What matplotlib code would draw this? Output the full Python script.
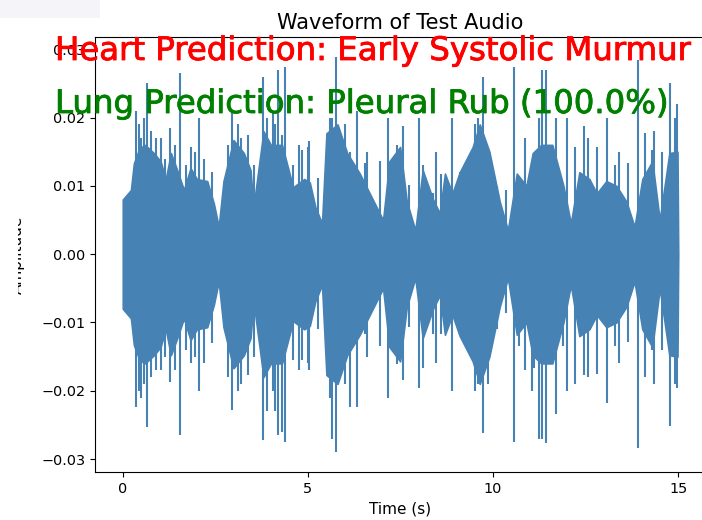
import matplotlib
matplotlib.use("Agg")
import matplotlib.pyplot as plt
import matplotlib.patheffects as pe
from matplotlib.patches import Rectangle

# envelope of the dense part of the waveform
env_t = [0.0, 0.22, 0.3, 0.45, 0.6, 0.84, 1.02, 1.16, 1.3, 1.47, 1.65, 1.83, 2.0, 2.28,
         2.46, 2.59, 2.72, 2.99, 3.27, 3.45, 3.53, 3.8, 4.0, 4.3, 4.6, 4.9, 5.05, 5.2,
         5.38, 5.5, 5.8, 6.06, 6.4, 6.76, 7.03, 7.2, 7.49, 7.67, 7.9, 8.1, 8.38, 8.56,
         8.7, 8.9, 9.1, 9.45, 9.64, 9.9, 10.18, 10.4, 10.64, 10.9, 11.07, 11.3, 11.6,
         11.9, 12.1, 12.33, 12.6, 12.8, 13.06, 13.33, 13.6, 13.82, 14.03, 14.3, 14.5,
         14.76, 14.98, 15.0]
env_amp = [0.008, 0.0094, 0.0133, 0.0155, 0.016, 0.0148, 0.0136, 0.011, 0.0148, 0.0123,
           0.0094, 0.0126, 0.011, 0.0107, 0.0074, 0.004, 0.0107, 0.0167, 0.0148, 0.0123,
           0.0069, 0.018, 0.016, 0.016, 0.0098, 0.011, 0.0105, 0.0069, 0.0045, 0.0177,
           0.019, 0.0148, 0.0118, 0.0079, 0.005, 0.0136, 0.0157, 0.0077, 0.0035, 0.0123,
           0.008, 0.006, 0.0118, 0.0089, 0.012, 0.0157, 0.019, 0.015, 0.0077, 0.0035,
           0.0118, 0.01, 0.0148, 0.016, 0.016, 0.01, 0.0045, 0.012, 0.011, 0.0089,
           0.0107, 0.01, 0.0077, 0.004, 0.011, 0.0136, 0.005, 0.0148, 0.015, 0.0]

# peaks sticking out of the envelope: time, top, bottom
spike_t = [0.35, 0.43, 0.5, 0.57, 0.65, 0.75, 0.9, 1.02, 1.15, 1.27, 1.4, 1.54, 1.7,
           1.83, 1.95, 2.07, 2.2, 2.4, 2.85, 2.96, 3.1, 3.2, 3.37, 3.55, 3.8, 3.9, 4.05,
           4.12, 4.2, 4.3, 4.39, 4.6, 4.75, 4.85, 5.0, 5.03, 5.28, 5.6, 5.65, 5.76, 6.0,
           6.14, 6.33, 6.55, 6.6, 6.95, 7.16, 7.4, 7.57, 7.72, 8.0, 8.1, 8.38, 8.45, 8.6,
           8.89, 9.1, 9.38, 9.5, 9.6, 9.72, 9.85, 10.1, 10.36, 10.56, 10.7, 10.85, 11.05,
           11.1, 11.24, 11.31, 11.42, 11.69, 11.9, 12.0, 12.2, 12.45, 12.55, 12.8, 13.09,
           13.3, 13.4, 13.65, 13.92, 14.1, 14.3, 14.35, 14.55, 14.79, 14.9, 14.97]
spike_up = [0.021, 0.019, 0.017, 0.02, 0.025, 0.018, 0.017, 0.017, 0.014, 0.0185, 0.016,
            0.0265, 0.013, 0.0157, 0.015, 0.02, 0.014, 0.012, 0.016, 0.021, 0.019, 0.017,
            0.0174, 0.013, 0.026, 0.02, 0.021, 0.019, 0.027, 0.0174, 0.0274, 0.013, 0.016,
            0.0153, 0.0157, 0.0165, 0.0112, 0.02, 0.02, 0.0289, 0.019, 0.015, 0.021,
            0.0133, 0.015, 0.0136, 0.02, 0.016, 0.0187, 0.0102, 0.02, 0.013, 0.009, 0.015,
            0.0118, 0.02, 0.012, 0.012, 0.019, 0.02, 0.026, 0.0157, 0.01, 0.0094, 0.0274,
            0.011, 0.017, 0.0136, 0.0136, 0.02, 0.027, 0.027, 0.02, 0.01, 0.02, 0.0157,
            0.0187, 0.017, 0.0157, 0.02, 0.013, 0.015, 0.0133, 0.0284, 0.0177, 0.0153,
            0.018, 0.015, 0.025, 0.02, 0.022]
spike_down = [-0.0224, -0.02, -0.021, -0.019, -0.0253, -0.018, -0.017, -0.017, -0.015,
              -0.0187, -0.017, -0.0265, -0.014, -0.016, -0.015, -0.02, -0.016, -0.013,
              -0.018, -0.0228, -0.02, -0.019, -0.0177, -0.015, -0.0272, -0.023, -0.02,
              -0.023, -0.0265, -0.026, -0.0275, -0.0155, -0.017, -0.0155, -0.016, -0.017,
              -0.011, -0.021, -0.027, -0.029, -0.019, -0.0224, -0.0224, -0.0117, -0.015,
              -0.0134, -0.021, -0.0161, -0.0185, -0.0107, -0.0196, -0.0167, -0.0117,
              -0.016, -0.0117, -0.02, -0.0117, -0.014, -0.02, -0.019, -0.0262, -0.019,
              -0.011, -0.0086, -0.0275, -0.0135, -0.017, -0.02, -0.0167, -0.027, -0.0271,
              -0.0277, -0.0234, -0.0135, -0.02, -0.019, -0.0177, -0.018, -0.0175, -0.0218,
              -0.0135, -0.016, -0.0128, -0.0284, -0.018, -0.014, -0.019, -0.014, -0.0252,
              -0.019, -0.0196]

x_ticks = [0, 5, 10, 15]
y_ticks = [-0.03, -0.02, -0.01, 0.0, 0.01, 0.02, 0.03]

heart_text = "Heart Prediction: Early Systolic Murmur"
lung_text = "Lung Prediction: Pleural Rub (100.0%)"

W, H = 702, 520
fig = plt.figure(figsize=(W / 100, H / 100), dpi=100)
ax = fig.add_axes([95 / W, 1 - 472 / H, 611 / W, 435 / H])

wave_color = "steelblue"
neg_env = [-a for a in env_amp]
ax.fill_between(env_t, neg_env, env_amp, color=wave_color, lw=1.2)
ax.vlines(spike_t, spike_down, spike_up, color=wave_color, lw=1.5)

ax.set_xlim(-0.75, 15.75)
ax.set_ylim(-0.0319, 0.0318)
ax.set_xticks(x_ticks)
ax.set_yticks(y_ticks)
ax.set_yticklabels([f"{v:.2f}".replace("-", "\u2212") for v in y_ticks])
ax.tick_params(labelsize=10.4)
ax.set_xlabel("Time (s)", fontsize=11)
ax.set_ylabel("Amplitude", fontsize=11)
ax.yaxis.set_label_coords(-0.114, 0.5)
ax.set_title("Waveform of Test Audio", fontsize=15)

# left edge of the screenshot cuts into the y label
fig.patches.append(Rectangle((0, 0), 17.5 / W, 1, transform=fig.transFigure,
                             facecolor="white", edgecolor="none", zorder=5))
fig.patches.append(Rectangle((0, 1 - 18 / H), 100 / W, 18 / H, transform=fig.transFigure,
                             facecolor="#f4f4f9", edgecolor="none", zorder=5))

# prediction labels drawn over the plot
fig.text(55 / W, 1 - 60 / H, heart_text, color="red", fontsize=23.3,
         va="baseline", ha="left", zorder=10,
         path_effects=[pe.withStroke(linewidth=0.6, foreground="red")])
fig.text(55 / W, 1 - 113 / H, lung_text, color="green", fontsize=23.3,
         va="baseline", ha="left", zorder=10,
         path_effects=[pe.withStroke(linewidth=0.6, foreground="green")])

fig.savefig("out.png", dpi=100)
